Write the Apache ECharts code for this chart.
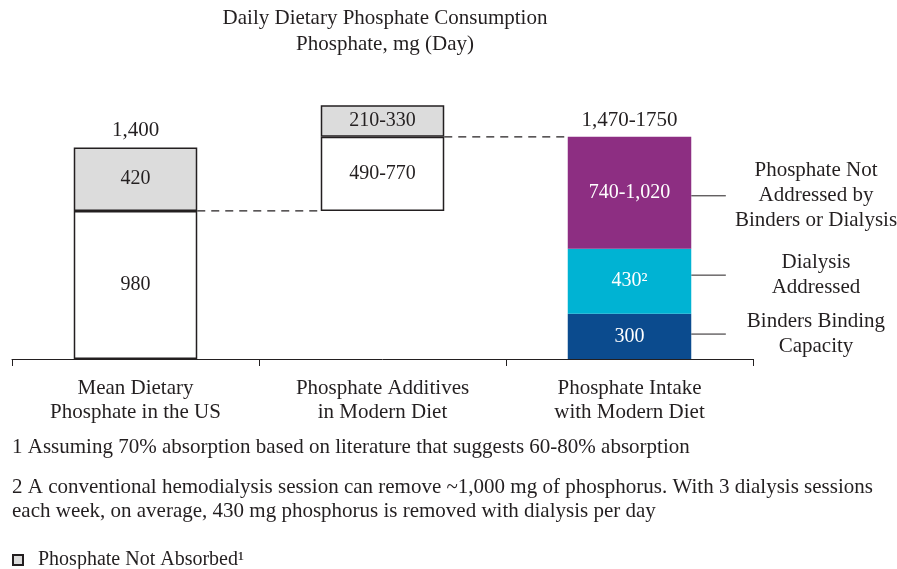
<!DOCTYPE html>
<html>
<head>
<meta charset="utf-8">
<script src="https://cdn.jsdelivr.net/npm/echarts@6/dist/echarts.min.js"></script>
<style>
  html, body { margin: 0; padding: 0; background: #fff; }
  #main { width: 897px; height: 569px; }
</style>
</head>
<body>
<div id="main"></div>
<script>
// categories
var categories = ['Mean Dietary\nPhosphate in the US', 'Phosphate Additives\nin Modern Diet', 'Phosphate Intake\nwith Modern Diet'];

// stacked segments (bottom to top), '-' = no segment
var baseGap      = ['-', 980, '-'];
var binders      = ['-', '-', 300];
var dialysis     = ['-', '-', 430];
var absorbed     = [980, 490, '-'];
var notAddressed = ['-', '-', 740];
var notAbsorbed  = [420, 210, '-'];

// texts shown in the segments
var absorbedText     = ['980', '490-770', ''];
var notAbsorbedText  = ['420', '210-330', ''];
var bindersText      = ['', '', '300'];
var dialysisText     = ['', '', '430²'];
var notAddressedText = ['', '', '740-1,020'];

// totals on top of bars: [category, value, text]
var totals = [[0, 1400, '1,400'], [2, 1470, '1,470-1750']];

// dashed connectors: [from category, to category, value]
var connectors = [[0, 1, 980], [1, 2, 1470]];

// annotations to the right of the last bar: [category, value, text]
var annotations = [
    [2, 1080, 'Phosphate Not\nAddressed by\nBinders or Dialysis'],
    [2, 555, 'Dialysis\nAddressed'],
    [2, 165, 'Binders Binding\nCapacity']
];

var FONT = 'Liberation Serif';
var FS = 21;
var TXT = '#231f20';

var chart = echarts.init(document.getElementById('main'));

function segLabel(texts, color) {
    return {
        show: true,
        position: 'inside',
        fontFamily: FONT,
        fontSize: 20,
        color: color,
        formatter: function (p) { return texts[p.dataIndex]; }
    };
}

var barCommon = { type: 'bar', stack: 'total', barWidth: '50%', animation: false };

option = {
    animation: false,
    title: [
        {
            text: 'Daily Dietary Phosphate Consumption\nPhosphate, mg (Day)',
            left: 380, top: 0, textAlign: 'center',
            textStyle: { fontFamily: FONT, fontSize: FS, fontWeight: 'normal', color: TXT, lineHeight: 26 }
        },
        {
            text: '1 Assuming 70% absorption based on literature that suggests 60-80% absorption',
            left: 7, top: 430,
            textStyle: { fontFamily: FONT, fontSize: FS, fontWeight: 'normal', color: TXT, lineHeight: 24 }
        },
        {
            text: '2 A conventional hemodialysis session can remove ~1,000 mg of phosphorus. With 3 dialysis sessions\neach week, on average, 430 mg phosphorus is removed with dialysis per day',
            left: 7, top: 470,
            textStyle: { fontFamily: FONT, fontSize: FS, fontWeight: 'normal', color: TXT, lineHeight: 24 }
        }
    ],
    legend: {
        left: 7, top: 545,
        icon: 'rect',
        itemWidth: 10, itemHeight: 10,
        data: ['Phosphate Not Absorbed'],
        formatter: function (name) { return name + '¹'; },
        textStyle: { fontFamily: FONT, fontSize: FS - 1, color: TXT, padding: [0, 0, 0, 10] }
    },
    grid: { left: 12, right: 144, top: 87, height: 272 },
    xAxis: {
        type: 'category',
        data: categories,
        axisLine: { lineStyle: { color: '#231f20', width: 1 } },
        axisTick: { show: true, length: 7, lineStyle: { color: '#231f20' } },
        axisLabel: { fontFamily: FONT, fontSize: FS, color: TXT, lineHeight: 24, margin: 17 }
    },
    yAxis: { type: 'value', min: 0, max: 1800, show: false, splitLine: { show: false } },
    series: [
        Object.assign({}, barCommon, {
            name: 'base', data: baseGap,
            itemStyle: { color: 'transparent' }, silent: true
        }),
        Object.assign({}, barCommon, {
            name: 'Binders Binding Capacity', data: binders,
            itemStyle: { color: '#0b4b8e' },
            label: segLabel(bindersText, '#fff')
        }),
        Object.assign({}, barCommon, {
            name: 'Dialysis Addressed', data: dialysis,
            itemStyle: { color: '#00b3d3' },
            label: segLabel(dialysisText, '#fff')
        }),
        Object.assign({}, barCommon, {
            name: 'Phosphate Absorbed', data: absorbed,
            itemStyle: { color: '#ffffff', borderColor: '#231f20', borderWidth: 1.5 },
            label: segLabel(absorbedText, TXT)
        }),
        Object.assign({}, barCommon, {
            name: 'Phosphate Not Addressed', data: notAddressed,
            itemStyle: { color: '#8d2e82' },
            label: segLabel(notAddressedText, '#fff')
        }),
        Object.assign({}, barCommon, {
            name: 'Phosphate Not Absorbed', data: notAbsorbed,
            itemStyle: { color: '#dcdcdc', borderColor: '#231f20', borderWidth: 1.5 },
            label: segLabel(notAbsorbedText, TXT)
        }),
        {
            type: 'custom', name: 'connectors', silent: true, z: 1,
            data: connectors,
            renderItem: function (params, api) {
                var band = api.size([1, 0])[0];
                var a = api.coord([api.value(0), api.value(2)]);
                var b = api.coord([api.value(1), api.value(2)]);
                return {
                    type: 'line',
                    shape: { x1: a[0] + band / 4, y1: a[1], x2: b[0] - band / 4, y2: b[1] },
                    style: { stroke: '#231f20', lineWidth: 1.2, lineDash: [8, 6] }
                };
            }
        },
        {
            type: 'custom', name: 'totals', silent: true,
            data: totals,
            renderItem: function (params, api) {
                var p = api.coord([api.value(0), api.value(1)]);
                return {
                    type: 'text',
                    style: {
                        x: p[0], y: p[1] - 6,
                        text: totals[params.dataIndex][2],
                        align: 'center', verticalAlign: 'bottom',
                        font: FS + 'px "' + FONT + '"', fill: TXT
                    }
                };
            }
        },
        {
            type: 'custom', name: 'annotations', silent: true,
            data: annotations,
            renderItem: function (params, api) {
                var band = api.size([1, 0])[0];
                var p = api.coord([api.value(0), api.value(1)]);
                var x0 = p[0] + band / 4;
                return {
                    type: 'group',
                    children: [
                        {
                            type: 'line',
                            shape: { x1: x0, y1: p[1], x2: x0 + band * 0.14, y2: p[1] },
                            style: { stroke: '#231f20', lineWidth: 1 }
                        },
                        {
                            type: 'text',
                            style: {
                                x: p[0] + band * 0.755, y: p[1],
                                text: annotations[params.dataIndex][2],
                                align: 'center', verticalAlign: 'middle',
                                font: FS + 'px "' + FONT + '"', fill: TXT, lineHeight: 25
                            }
                        }
                    ]
                };
            }
        }
    ]
};
chart.setOption(option);
</script>
</body>
</html>
